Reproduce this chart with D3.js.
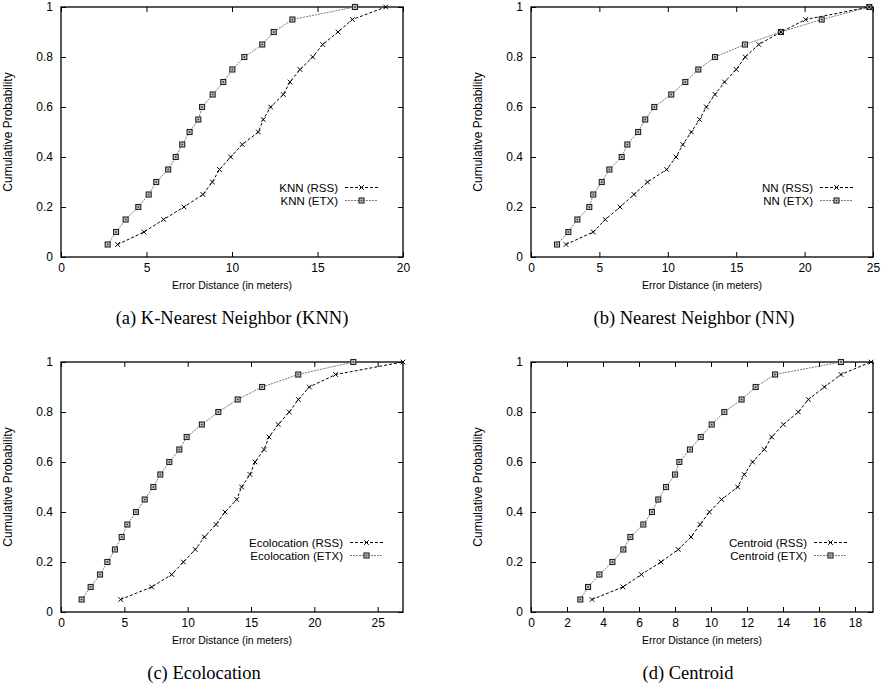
<!DOCTYPE html>
<html>
<head>
<meta charset="utf-8">
<script src="https://cdn.jsdelivr.net/npm/d3@7"></script>
<style>
  html, body { margin: 0; padding: 0; background: #fff; }
  svg { display: block; }
  .tick text { font-family: "Liberation Sans", Arial, sans-serif; font-size: 12px; fill: #000; }
</style>
</head>
<body>
<svg id="chart" width="886" height="688"></svg>
<script>
// ---- data ----
const probs = [0.05, 0.10, 0.15, 0.20, 0.25, 0.30, 0.35, 0.40, 0.45, 0.50,
               0.55, 0.60, 0.65, 0.70, 0.75, 0.80, 0.85, 0.90, 0.95, 1.00];

const knnRss = [3.31, 4.85, 6.00, 7.19, 8.30, 8.85, 9.27, 9.92, 10.60, 11.54, 11.83, 12.26, 13.00, 13.39, 13.98, 14.72, 15.30, 16.20, 17.04, 18.99];
const knnEtx = [2.73, 3.22, 3.78, 4.52, 5.13, 5.57, 6.27, 6.71, 7.09, 7.52, 8.03, 8.25, 8.87, 9.49, 10.02, 10.72, 11.77, 12.44, 13.53, 17.19];

const nnRss = [2.56, 4.55, 5.43, 6.51, 7.53, 8.52, 9.92, 10.60, 11.10, 11.72, 12.32, 12.82, 13.45, 14.15, 15.00, 15.66, 16.65, 18.27, 20.08, 24.73];
const nnEtx = [1.90, 2.73, 3.39, 4.26, 4.55, 5.17, 5.73, 6.63, 7.04, 7.83, 8.35, 9.01, 10.25, 11.28, 12.23, 13.45, 15.64, 18.27, 21.25, 24.73];

const ecoRss = [4.71, 7.16, 8.74, 9.66, 10.60, 11.32, 12.24, 12.95, 13.87, 14.26, 14.92, 15.32, 16.03, 16.42, 17.15, 18.02, 18.74, 19.61, 21.68, 27.00];
const ecoEtx = [1.63, 2.34, 3.08, 3.66, 4.26, 4.79, 5.24, 5.92, 6.61, 7.29, 7.84, 8.55, 9.34, 9.92, 11.12, 12.42, 13.95, 15.88, 18.73, 23.08];

const cenRss = [3.39, 5.11, 6.13, 7.22, 8.18, 8.89, 9.39, 9.91, 10.59, 11.48, 11.85, 12.31, 12.96, 13.37, 14.02, 14.85, 15.41, 16.30, 17.22, 18.89];
const cenEtx = [2.74, 3.17, 3.80, 4.52, 5.13, 5.52, 6.24, 6.72, 7.07, 7.50, 8.00, 8.24, 8.83, 9.43, 10.04, 10.74, 11.70, 12.48, 13.56, 17.22];

const methodNames = ["KNN", "NN", "Ecolocation", "Centroid"];
const captions = ["(a) K-Nearest Neighbor (KNN)", "(b) Nearest Neighbor (NN)", "(c) Ecolocation", "(d) Centroid"];
const xMaxes = [20, 25, 27, 19];
const xTickSets = [[0, 5, 10, 15, 20], [0, 5, 10, 15, 20, 25], [0, 5, 10, 15, 20, 25], [0, 2, 4, 6, 8, 10, 12, 14, 16, 18]];
const yTicks = [0, 0.2, 0.4, 0.6, 0.8, 1];
const yTickLabels = ["0", "0.2", "0.4", "0.6", "0.8", "1"];
const rssSeries = [knnRss, nnRss, ecoRss, cenRss];
const etxSeries = [knnEtx, nnEtx, ecoEtx, cenEtx];
const xTitle = "Error Distance (in meters)";
const yTitle = "Cumulative Probability";

// ---- layout ----
const panels = [
  { left: 61,  top: 7,   legendEnd: 378, capX: 232 },
  { left: 531, top: 7,   legendEnd: 853, capX: 694 },
  { left: 61,  top: 362, legendEnd: 383, capX: 204 },
  { left: 531, top: 362, legendEnd: 847, capX: 688 }
];
const W = 342, H = 250;
const sans = '"Liberation Sans", Arial, sans-serif';
const serif = '"Liberation Serif", "Times New Roman", serif';

const svg = d3.select("#chart");

function drawCross(g, x, y, s) {
  g.append("path")
    .attr("d", `M${x - s},${y - s}L${x + s},${y + s}M${x - s},${y + s}L${x + s},${y - s}`)
    .attr("stroke", "#000").attr("stroke-width", 1).attr("fill", "none");
}
function drawSquare(g, x, y, s) {
  g.append("rect")
    .attr("x", x - s).attr("y", y - s).attr("width", 2 * s).attr("height", 2 * s)
    .attr("stroke", "#222").attr("stroke-width", 1.1).attr("fill", "#c8c8c8");
  g.append("rect")
    .attr("x", x - 0.8).attr("y", y - 0.8).attr("width", 1.6).attr("height", 1.6)
    .attr("fill", "#333");
}

panels.forEach((p, i) => {
  const g = svg.append("g").attr("transform", `translate(${p.left},${p.top})`);
  const x = d3.scaleLinear().domain([0, xMaxes[i]]).range([0, W]);
  const y = d3.scaleLinear().domain([0, 1]).range([H, 0]);

  // axes with inward ticks
  const ax = g.append("g").attr("transform", `translate(0,${H})`)
    .call(d3.axisBottom(x).tickValues(xTickSets[i]).tickFormat(d3.format("d"))
      .tickSizeInner(-5).tickSizeOuter(0).tickPadding(6));
  const ay = g.append("g")
    .call(d3.axisLeft(y).tickValues(yTicks).tickFormat((d, k) => yTickLabels[k])
      .tickSizeInner(-5).tickSizeOuter(0).tickPadding(8));
  const at = g.append("g")
    .call(d3.axisTop(x).tickValues(xTickSets[i]).tickFormat("").tickSizeInner(-5).tickSizeOuter(0));
  const ar = g.append("g").attr("transform", `translate(${W},0)`)
    .call(d3.axisRight(y).tickValues(yTicks).tickFormat("").tickSizeInner(-5).tickSizeOuter(0));
  [ax, ay, at, ar].forEach(a => {
    a.select(".domain").remove();
    a.selectAll(".tick line").attr("stroke", "#000").attr("stroke-width", 1);
    a.attr("font-family", sans).attr("font-size", 12);
  });

  // border
  g.append("rect").attr("x", 0).attr("y", 0).attr("width", W).attr("height", H)
    .attr("fill", "none").attr("stroke", "#000").attr("stroke-width", 1.3);

  // series
  const rssPts = rssSeries[i].map((v, k) => [v, probs[k]]);
  const etxPts = etxSeries[i].map((v, k) => [v, probs[k]]);
  const line = d3.line().x(d => x(d[0])).y(d => y(d[1]));

  g.append("path").datum(etxPts).attr("d", line)
    .attr("fill", "none").attr("stroke", "#7a7a7a").attr("stroke-width", 1)
    .attr("stroke-dasharray", "2,1");
  g.append("path").datum(rssPts).attr("d", line)
    .attr("fill", "none").attr("stroke", "#000").attr("stroke-width", 1)
    .attr("stroke-dasharray", "3,2");

  const mg = g.append("g");
  etxPts.forEach(d => drawSquare(mg, x(d[0]), y(d[1]), 2.5));
  rssPts.forEach(d => drawCross(mg, x(d[0]), y(d[1]), 2.3));

  // legend
  const lg = svg.append("g");
  const sEnd = p.legendEnd, sStart = p.legendEnd - 33;
  const rows = [
    { label: `${methodNames[i]} (RSS)`, cy: p.top + 180.5, type: "rss" },
    { label: `${methodNames[i]} (ETX)`, cy: p.top + 193.5, type: "etx" }
  ];
  rows.forEach(r => {
    lg.append("text").attr("x", sStart - 7).attr("y", r.cy + 4)
      .attr("text-anchor", "end").attr("font-family", sans).attr("font-size", 11.5)
      .text(r.label);
    const l = lg.append("line").attr("x1", sStart).attr("x2", sEnd)
      .attr("y1", r.cy).attr("y2", r.cy).attr("stroke-width", 1);
    if (r.type === "rss") {
      l.attr("stroke", "#000").attr("stroke-dasharray", "3,2");
      drawCross(lg, (sStart + sEnd) / 2, r.cy, 2.3);
    } else {
      l.attr("stroke", "#7a7a7a").attr("stroke-dasharray", "2,1");
      drawSquare(lg, (sStart + sEnd) / 2, r.cy, 2.5);
    }
  });

  // axis titles
  svg.append("text")
    .attr("transform", `translate(${p.left - 49},${p.top + H / 2}) rotate(-90)`)
    .attr("text-anchor", "middle").attr("font-family", sans).attr("font-size", 12)
    .text(yTitle);
  svg.append("text")
    .attr("x", p.left + W / 2).attr("y", p.top + H + 32)
    .attr("text-anchor", "middle").attr("font-family", sans).attr("font-size", 10.5)
    .text(xTitle);

  // caption
  svg.append("text")
    .attr("x", p.capX).attr("y", p.top + H + 67)
    .attr("text-anchor", "middle").attr("font-family", serif).attr("font-size", 18.5)
    .text(captions[i]);
});
</script>
</body>
</html>
